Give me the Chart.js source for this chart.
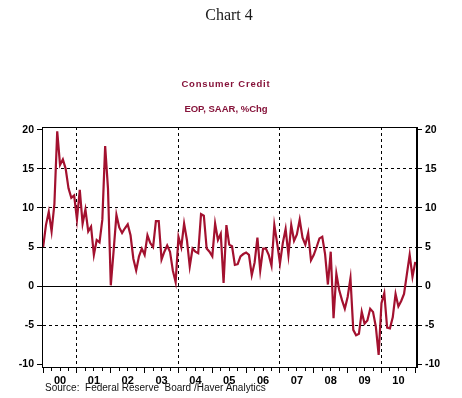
<!DOCTYPE html>
<html>
<head>
<meta charset="utf-8">
<title>Chart 4</title>
<script src="https://cdn.jsdelivr.net/npm/chart.js@4.4.1/dist/chart.umd.min.js"></script>
<style>
  body { margin: 0; background: #fff; }
  #wrap { position: relative; width: 462px; height: 398px; overflow: hidden; }
  #chart { position: absolute; left: 0; top: 0; }
  .txt { position: absolute; white-space: nowrap; }
  #head { left: 0; width: 458px; top: 6px; text-align: center; font: 16px 'Liberation Serif', serif; color: #1a1a1a; }
  #t1, #t2 { left: 0; width: 452px; text-align: center; font: bold 9.5px 'Liberation Sans', Arial, sans-serif; color: #86133a; }
  #t1 { top: 78px; letter-spacing: 0.8px; }
  #t2 { top: 103px; }
  #source { left: 45px; top: 382px; font: 10px 'Liberation Sans', Arial, sans-serif; color: #111; }
</style>
</head>
<body>
<div id="wrap">
  <canvas id="chart" width="462" height="398"></canvas>
  <div class="txt" id="head">Chart 4</div>
  <div class="txt" id="t1">Consumer Credit</div>
  <div class="txt" id="t2">EOP, SAAR, %Chg</div>
  <div class="txt" id="source">Source:&nbsp; Federal Reserve&nbsp; Board /Haver Analytics</div>
</div>
<script>
// year labels on the time axis (2000 .. 2010)
const years = ['00', '01', '02', '03', '04', '05', '06', '07', '08', '09', '10'];
// years that get a dashed vertical line at their start
const markedYears = ['01', '04', '07', '10'];
const yTicks = [-10, -5, 0, 5, 10, 15, 20];

// monthly values, % change EOP SAAR
const y2000 = [5.0, 7.8, 9.5, 7.0, 10.5, 19.8, 15.5, 16.2, 15.0, 12.5, 11.3, 11.6];
const y2001 = [8.5, 12.3, 8.0, 9.8, 7.0, 7.6, 4.0, 5.9, 5.6, 8.5, 17.9, 12.5];
const y2002 = [0.1, 4.5, 9.1, 7.5, 6.8, 7.4, 7.9, 6.5, 3.5, 2.0, 3.8, 4.8];
const y2003 = [4.0, 6.5, 5.5, 5.0, 8.3, 8.3, 3.4, 4.4, 5.2, 4.4, 2.0, 0.5];
const y2004 = [6.3, 5.0, 8.0, 5.9, 2.5, 4.8, 4.4, 4.2, 9.2, 9.0, 4.8, 4.4];
const y2005 = [3.8, 8.0, 5.9, 6.7, 0.4, 7.8, 5.3, 5.1, 2.7, 2.8, 3.8, 4.1];
const y2006 = [4.3, 4.0, 1.4, 3.0, 6.2, 2.0, 4.8, 4.8, 4.0, 2.6, 7.8, 5.5];
const y2007 = [2.9, 5.5, 7.3, 4.0, 7.8, 5.8, 6.6, 8.5, 6.2, 5.3, 6.8, 3.3];
const y2008 = [4.0, 5.0, 6.1, 6.3, 4.1, 0.2, 4.4, -4.1, 1.6, -0.5, -1.8, -2.9];
const y2009 = [-1.4, 1.0, -5.6, -6.3, -6.1, -3.3, -4.8, -4.4, -2.9, -3.3, -5.2, -8.8];
const y2010 = [-2.2, -0.9, -5.3, -5.4, -4.0, -1.0, -2.6, -1.9, -1.0, 1.5, 4.0, 1.2, 3.1];

const values = [].concat(y2000, y2001, y2002, y2003, y2004, y2005,
    y2006, y2007, y2008, y2009, y2010);
const points = values.map((v, i) => ({ x: i, y: v }));
const gridMonths = markedYears.map(y => years.indexOf(y) * 12);

const lineColor = '#a3112f';
const font = "'Liberation Sans', Arial, sans-serif";

// box round the plot area
const framePlugin = {
    id: 'frame',
    afterDatasetsDraw(chart) {
        const { ctx, chartArea: a } = chart;
        ctx.save();
        ctx.strokeStyle = '#000';
        ctx.lineWidth = 1;
        ctx.strokeRect(Math.round(a.left) + 0.5, Math.round(a.top) + 0.5,
            Math.round(a.right - a.left) - 1, Math.round(a.bottom - a.top));
        ctx.restore();
    }
};

function yAxis(position, showGrid) {
    return {
        type: 'linear',
        position: position,
        min: -10.35,
        max: 20.35,
        afterBuildTicks: axis => { axis.ticks = yTicks.map(v => ({ value: v })); },
        afterFit: axis => { axis.width = position === 'left' ? 42 : 45; },
        ticks: { font: { family: font, size: 10.5, weight: 'bold' }, color: '#000', padding: 3 },
        grid: {
            drawOnChartArea: showGrid,
            color: ctx => {
                const v = ctx.tick && ctx.tick.value;
                return (v === 20 || v === -10) ? 'transparent' : '#000';
            },
            tickColor: '#000',
            tickLength: 5,
            lineWidth: 1
        },
        border: {
            display: true,
            color: '#000',
            dash: ctx => (ctx.tick && ctx.tick.value === 0) ? [] : [3, 3]
        }
    };
}

new Chart(document.getElementById('chart'), {
    type: 'line',
    data: {
        datasets: [{
            data: points,
            borderColor: lineColor,
            borderWidth: 2.2,
            pointRadius: 0,
            tension: 0,
            yAxisID: 'y'
        }]
    },
    options: {
        responsive: false,
        animation: false,
        layout: { padding: { top: 127, left: 0, right: 0, bottom: 0 } },
        plugins: { legend: { display: false }, tooltip: { enabled: false } },
        scales: {
            x: {
                type: 'linear',
                position: 'bottom',
                min: -0.4,
                max: years.length * 12 + 0.6,
                afterBuildTicks: axis => {
                    const t = [];
                    for (let m = 0; m <= years.length * 12; m += 3) t.push({ value: m });
                    axis.ticks = t;
                },
                afterFit: axis => { axis.height = 31; },
                ticks: {
                    autoSkip: false,
                    maxRotation: 0,
                    padding: 1,
                    font: { family: font, size: 11, weight: 'bold' },
                    color: '#000',
                    callback: v => (v % 12 === 6 ? years[Math.floor(v / 12)] : '')
                },
                grid: {
                    color: ctx => (ctx.tick && gridMonths.includes(ctx.tick.value)) ? '#000' : 'transparent',
                    tickColor: '#000',
                    tickLength: 6,
                    tickBorderDash: ctx => (ctx.tick && ctx.tick.value % 12 === 0) ? [] : [3, 20]
                },
                border: { display: true, color: '#000', dash: [3, 3] }
            },
            y: yAxis('left', true),
            y2: yAxis('right', false)
        }
    },
    plugins: [framePlugin]
});
</script>
</body>
</html>
